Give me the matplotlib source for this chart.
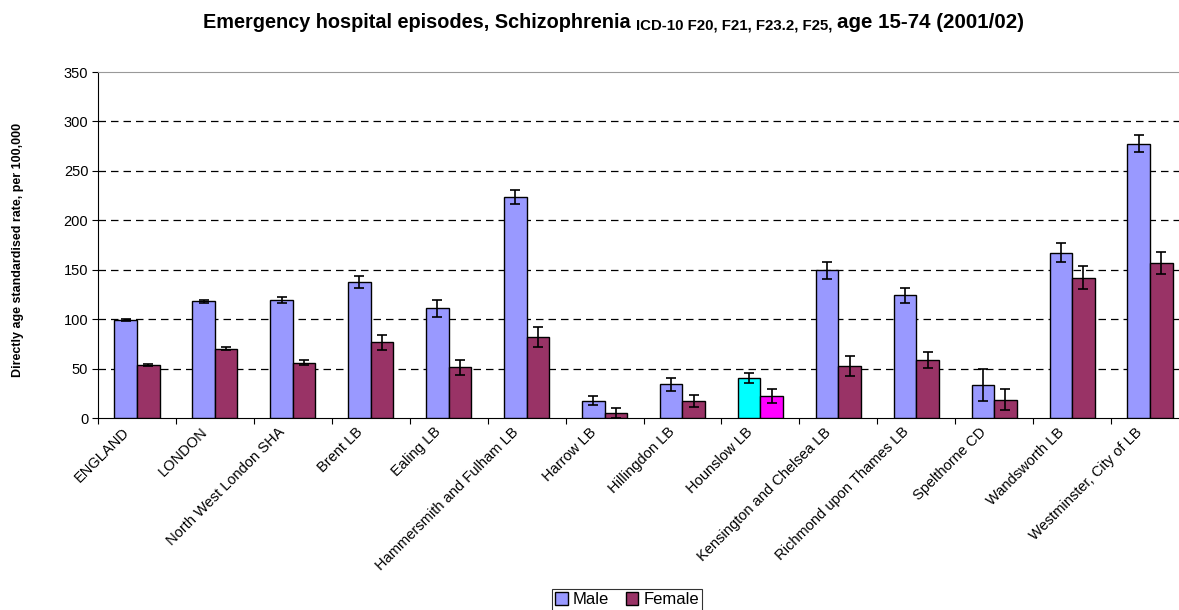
import numpy as np
import matplotlib
matplotlib.use('Agg')
import matplotlib.pyplot as plt
import matplotlib.transforms as mtransforms
from matplotlib.patches import Patch

plt.rcParams['font.family'] = ['Liberation Sans', 'DejaVu Sans']

# data
areas = ['ENGLAND', 'LONDON', 'North West London SHA', 'Brent LB', 'Ealing LB',
         'Hammersmith and Fulham LB', 'Harrow LB', 'Hillingdon LB', 'Hounslow LB',
         'Kensington and Chelsea LB', 'Richmond upon Thames LB', 'Spelthorne CD',
         'Wandsworth LB', 'Westminster, City of LB']
male = [99.3, 118.2, 119.3, 137.8, 110.8, 223.6, 17.6, 34.1, 40.5, 149.3, 124.3, 33.1, 167.2, 277.6]
male_err = [0.8, 1.5, 2.7, 5.9, 8.8, 7.0, 4.4, 6.6, 5.0, 8.8, 7.6, 16.0, 9.6, 8.4]
female = [53.7, 69.9, 56.1, 76.4, 51.4, 81.8, 5.1, 17.6, 22.3, 52.7, 58.5, 18.6, 141.9, 157.1]
female_err = [1.0, 1.5, 2.9, 8.0, 7.4, 9.8, 4.7, 6.0, 7.0, 10.0, 8.1, 10.8, 11.5, 11.1]

male_col = '#9999FF'
female_col = '#993366'
highlight = 'Hounslow LB'

fig = plt.figure(figsize=(11.79, 6.10), dpi=100)
ax = fig.add_axes([98 / 1179, 1 - 418 / 610, (1189 - 98) / 1179, (418 - 72) / 610])

x = np.arange(len(areas))
w = 0.29
mcols = ['#00FFFF' if a == highlight else male_col for a in areas]
fcols = ['#FF00FF' if a == highlight else female_col for a in areas]
ax.bar(x - w / 2, male, w, color=mcols, edgecolor='black', linewidth=1.0, zorder=3)
ax.bar(x + w / 2, female, w, color=fcols, edgecolor='black', linewidth=1.0, zorder=3)
ekw = dict(fmt='none', ecolor='black', elinewidth=1.2, capsize=3.5, capthick=1.2, zorder=4)
ax.errorbar(x - w / 2, male, yerr=male_err, **ekw)
ax.errorbar(x + w / 2, female, yerr=female_err, **ekw)

ax.set_xlim(-0.5, len(areas) - 0.5)
ax.set_ylim(0, 350)
ax.set_yticks(range(0, 351, 50))
ax.tick_params(axis='y', length=4, labelsize=10.5, pad=3)
for yv in range(50, 301, 50):
    ax.axhline(yv, color='black', linestyle=(0, (6, 4)), linewidth=0.9, zorder=1)

ax.set_xticks(np.arange(-0.5, len(areas), 1.0))
ax.set_xticklabels([])
ax.tick_params(axis='x', which='major', length=4)
ax.set_xticks(x, minor=True)
ax.set_xticklabels(areas, minor=True, rotation=45, ha='right', rotation_mode='anchor', fontsize=10.5)
ax.tick_params(axis='x', which='minor', length=0, pad=5)
shift = mtransforms.ScaledTranslation(-15 / 100, 0, fig.dpi_scale_trans)
for lab in ax.get_xticklabels(minor=True):
    lab.set_transform(lab.get_transform() + shift)

ax.spines['top'].set_color('#999999')
ax.spines['right'].set_visible(False)
ax.spines['left'].set_color('black')
ax.spines['bottom'].set_color('black')

fig.text(18 / 1179, 1 - 250 / 610, 'Directly age standardised rate, per 100,000',
         rotation=90, ha='center', va='center', fontsize=9, fontweight='bold')

# title built from three pieces with differing sizes
t1 = fig.text(203 / 1179, 1 - 28 / 610, 'Emergency hospital episodes, Schizophrenia ',
              fontsize=14.3, fontweight='bold', va='baseline')
t2 = ax.annotate('ICD-10 F20, F21, F23.2, F25, ', xy=(1, 0), xycoords=t1,
                 fontsize=10.8, fontweight='bold', va='bottom', annotation_clip=False)
ax.annotate('age 15-74 (2001/02)', xy=(1, 0), xycoords=t2,
            fontsize=14.8, fontweight='bold', va='bottom', annotation_clip=False)

handles = [Patch(facecolor=male_col, edgecolor='black', label='Male'),
           Patch(facecolor=female_col, edgecolor='black', label='Female')]
leg = fig.legend(handles=handles, loc='upper center', bbox_to_anchor=(627 / 1179, 1 - 589 / 610),
                 borderaxespad=0, ncol=2, frameon=True, fancybox=False, fontsize=12,
                 handlelength=0.75, handleheight=0.75, handletextpad=0.3, columnspacing=1.0,
                 borderpad=0.2)
leg.get_frame().set_edgecolor('black')
leg.get_frame().set_linewidth(0.8)

fig.savefig('out.png', dpi=100)
